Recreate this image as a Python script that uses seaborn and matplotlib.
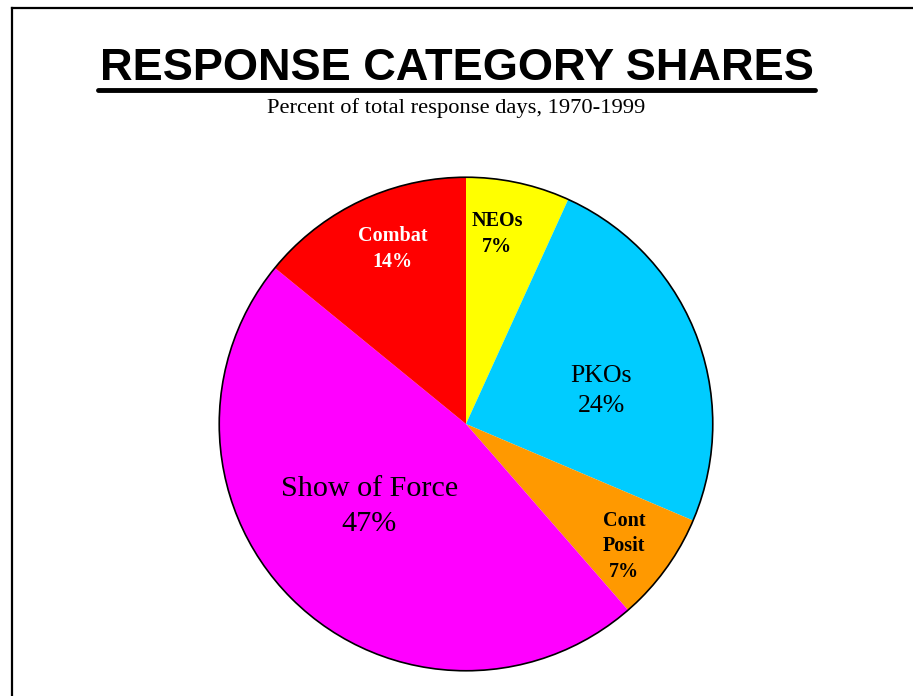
import numpy as np
import matplotlib
matplotlib.use("Agg")
import matplotlib.pyplot as plt
from matplotlib.lines import Line2D
from matplotlib.patches import Circle
import seaborn as sns

# data, clockwise from 12 o'clock
categories = ["NEOs", "PKOs", "Cont\nPosit", "Show of Force", "Combat"]
shares = [6.8, 24.6, 7.2, 47.3, 14.1]
pct_labels = ["7%", "24%", "7%", "47%", "14%"]
colors = ["#FFFF00", "#00CCFF", "#FF9900", "#FF00FF", "#FF0000"]

sns.set_style("white")
plt.rcParams['font.family'] = ['Liberation Serif', 'DejaVu Serif']
plt.rcParams['text.color'] = 'black'

W, H = 913, 696
fig = plt.figure(figsize=(W / 100, H / 100), dpi=100)

# pie axes: centre (466, 424) px, radius 248 px
cx, cy, R = 466, 424, 248
ax = fig.add_axes([(cx - R) / W, (H - cy - R) / H, 2 * R / W, 2 * R / H])
wedges, _ = ax.pie(shares, colors=colors, startangle=90, counterclock=False,
                   radius=1, wedgeprops=dict(linewidth=0))
ax.add_patch(Circle((0, 0), 1, fill=False, edgecolor="black", linewidth=1.2))
ax.set_xlim(-1.005, 1.005)
ax.set_ylim(-1.005, 1.005)
ax.set_aspect("equal")
ax.axis("off")

def px(x, y):
    return (x - cx) / R, (cy - y) / R

# label styles: (pixel position, size, weight, colour, line spacing)
label_style = {
    "NEOs": ((497, 233), 14.5, "bold", "black", 1.35),
    "PKOs": ((602, 391), 18.6, "normal", "black", 1.45),
    "Cont\nPosit": ((625, 547), 14.5, "bold", "black", 1.35),
    "Show of Force": ((369, 507), 21.7, "normal", "black", 1.45),
    "Combat": ((392, 248), 14.5, "bold", "white", 1.35),
}
for cat, pct in zip(categories, pct_labels):
    (lx, ly), size, weight, col, ls = label_style[cat]
    x, y = px(lx, ly)
    ax.text(x, y, f"{cat}\n{pct}", ha="center", va="center", fontsize=size,
            fontweight=weight, color=col, linespacing=ls,
            family=["Liberation Serif", "DejaVu Serif"])

# title and subtitle
title = fig.text(0.5, 1 - 80 / H, "RESPONSE CATEGORY SHARES", ha="center",
                 va="baseline", fontsize=32.5, fontweight="bold", color="black",
                 family=["Liberation Sans", "DejaVu Sans"])
fig.text(0.5, 1 - 113 / H, "Percent of total response days, 1970-1999",
         ha="center", va="baseline", fontsize=16.2, color="black",
         family=["Liberation Serif", "DejaVu Serif"])

fig.canvas.draw()
bb = title.get_window_extent()
uy = 1 - 90 / H
fig.add_artist(Line2D([bb.x0 / W - 0.002, bb.x1 / W + 0.002], [uy, uy],
                      color="black", linewidth=3.5, transform=fig.transFigure))

# page frame
fx, fy = 12 / W, 1 - 8 / H
fig.add_artist(Line2D([fx, fx], [0, fy], color="black", linewidth=1.6,
                      transform=fig.transFigure, solid_capstyle="projecting"))
fig.add_artist(Line2D([fx, 1], [fy, fy], color="black", linewidth=1.6,
                      transform=fig.transFigure, solid_capstyle="projecting"))

fig.savefig("out.png", dpi=100, facecolor="white")
